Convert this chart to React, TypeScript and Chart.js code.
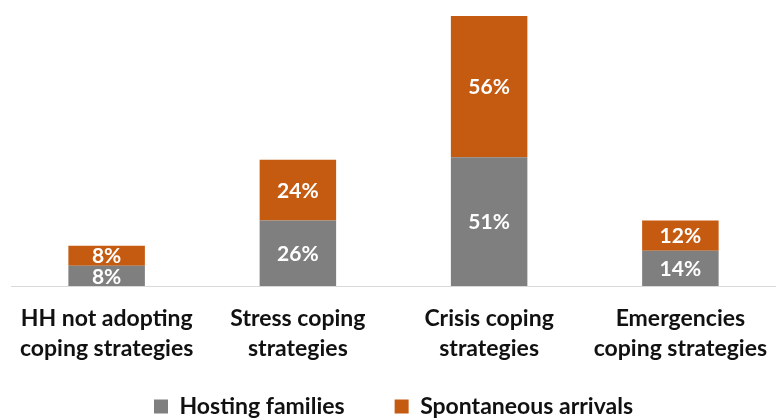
import React, { useEffect, useRef } from "react";
import { Chart, registerables } from "chart.js";

Chart.register(...registerables);

const categories: string[][] = [
  ["HH not adopting", "coping strategies"],
  ["Stress coping", "strategies"],
  ["Crisis coping", "strategies"],
  ["Emergencies", "coping strategies"],
];
const hostingFamilies: number[] = [8, 26, 51, 14];
const spontaneousArrivals: number[] = [8, 24, 56, 12];

const FONT = "Lato, 'Open Sans', sans-serif";

const segmentLabels = {
  id: "segmentLabels",
  afterDatasetsDraw(chart: any) {
    const ctx = chart.ctx;
    ctx.save();
    ctx.font = `bold 21px ${FONT}`;
    ctx.fillStyle = "#ffffff";
    ctx.textAlign = "center";
    ctx.textBaseline = "middle";
    chart.data.datasets.forEach((ds: any, di: number) => {
      const meta = chart.getDatasetMeta(di);
      meta.data.forEach((el: any, i: number) => {
        const v = ds.data[i];
        const p = el.getProps(["x", "y", "base"], true);
        ctx.fillText(`${v}%`, p.x, (p.y + p.base) / 2 + 1);
      });
    });
    ctx.restore();
  },
};

export default function App() {
  const ref = useRef<HTMLCanvasElement | null>(null);
  useEffect(() => {
    if (!ref.current) return;
    const chart = new Chart(ref.current, {
      type: "bar",
      data: {
        labels: categories,
        datasets: [
          {
            label: "Hosting families",
            data: hostingFamilies,
            backgroundColor: "#7f7f7f",
            barPercentage: 0.4,
            categoryPercentage: 1,
          },
          {
            label: "Spontaneous arrivals",
            data: spontaneousArrivals,
            backgroundColor: "#c55a11",
            barPercentage: 0.4,
            categoryPercentage: 1,
          },
        ],
      },
      options: {
        responsive: false,
        animation: false,
        layout: { padding: { top: 16, left: 11, right: 0, bottom: -10 } },
        plugins: {
          tooltip: { enabled: false },
          legend: {
            position: "bottom",
            labels: {
              font: { family: FONT, size: 23, weight: "bold" },
              color: "#111111",
              boxWidth: 14,
              boxHeight: 14,
              padding: 50,
            },
          },
        },
        scales: {
          x: {
            stacked: true,
            grid: { display: false, drawTicks: false },
            border: { display: true, color: "#d9d9d9", width: 1 },
            ticks: {
              font: { family: FONT, size: 23, weight: "bold", lineHeight: 1.3 },
              color: "#111111",
              padding: 18,
              maxRotation: 0,
              autoSkip: false,
            },
            afterFit: (scale: any) => {
              scale.height = 59;
              scale.paddingLeft = 0;
              scale.paddingRight = 0;
              scale._computeLabelArea = () => undefined;
            },
          },
          y: {
            stacked: true,
            display: false,
            min: 0,
            max: 107,
          },
        },
      },
      plugins: [segmentLabels],
    });
    return () => chart.destroy();
  }, []);
  return (
    <div style={{ position: "fixed", left: 0, top: 0, width: 776, height: 418, background: "#fff" }}>
      <canvas ref={ref} width={776} height={418} />
    </div>
  );
}
